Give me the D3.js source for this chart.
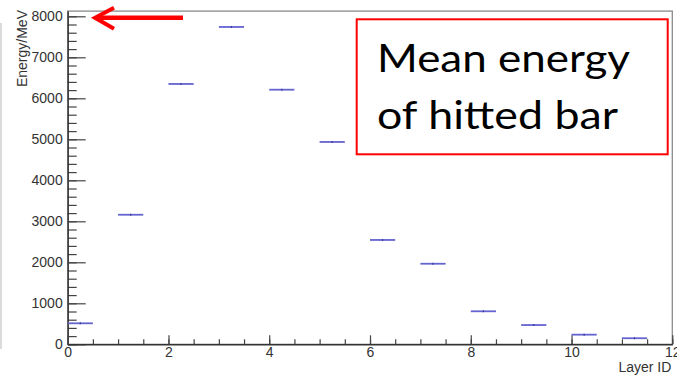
<!DOCTYPE html>
<html>
<head>
<meta charset="utf-8">
<script src="https://cdn.jsdelivr.net/npm/d3@7"></script>
<style>
  html, body { margin: 0; padding: 0; background: #fff; }
  svg { display: block; }
</style>
</head>
<body>
<svg id="chart" width="677" height="375"></svg>
<script>
// Mean deposited energy per layer (histogram bins of width 0.5 starting at each layer ID)
const layerIds = [0, 1, 2, 3, 4, 5, 6, 7, 8, 9, 10, 11];
const meanEnergy = [512, 3160, 6350, 7740, 6210, 4935, 2545, 1965, 805, 470, 235, 148];
const binWidth = 0.5;
const yMajorTicks = [0, 1000, 2000, 3000, 4000, 5000, 6000, 7000, 8000];
const xMajorTicks = [0, 2, 4, 6, 8, 10, 12];
const xTitle = "Layer ID";
const yTitle = "Energy/MeV";
const noteLines = ["Mean energy", "of hitted bar"];

const svg = d3.select("#chart");
const frame = { left: 67.7, right: 672.3, top: 11.1, bottom: 344.3 };

const x = d3.scaleLinear().domain([0, 12]).range([frame.left, frame.right]);
const y = d3.scaleLinear().domain([0, d3.max(meanEnergy) * 1.05]).range([frame.bottom, frame.top]);

// faint border on the far left
svg.append("line")
  .attr("x1", 1).attr("x2", 1).attr("y1", 23).attr("y2", 349)
  .attr("stroke", "#cfcfcf").attr("stroke-width", 1.5);

// frame
svg.append("rect")
  .attr("x", frame.left).attr("y", frame.top)
  .attr("width", frame.right - frame.left).attr("height", frame.bottom - frame.top)
  .attr("fill", "none").attr("stroke", "#8a8a8a").attr("stroke-width", 1.3);

const font = "'Liberation Sans', Arial, Helvetica, sans-serif";
const fmt = d3.format("d");

// y axis: minor ticks every 200, major every 1000 with labels
const yMinor = d3.range(0, y.domain()[1], 200);
svg.append("g").attr("transform", `translate(${frame.left},0)`)
  .call(d3.axisLeft(y).tickValues(yMinor).tickSize(-9).tickFormat(""))
  .call(g => g.select(".domain").remove())
  .selectAll("line").attr("stroke", "#444").attr("stroke-width", 1.2);

const yAxis = svg.append("g").attr("transform", `translate(${frame.left},0)`)
  .call(d3.axisLeft(y).tickValues(yMajorTicks).tickFormat(fmt).tickSize(-18).tickPadding(5).tickSizeOuter(0));
yAxis.select(".domain").attr("stroke", "#333").attr("stroke-width", 1.4);
yAxis.selectAll("line").attr("stroke", "#444").attr("stroke-width", 1.2);
yAxis.selectAll("text").attr("font-family", font).attr("font-size", 14).attr("fill", "#333");

// x axis: minor ticks every 0.5, major every 2 with labels
const xMinor = d3.range(0, 12.01, 0.5);
svg.append("g").attr("transform", `translate(0,${frame.bottom})`)
  .call(d3.axisBottom(x).tickValues(xMinor).tickSize(-5).tickFormat(""))
  .call(g => g.select(".domain").remove())
  .selectAll("line").attr("stroke", "#444").attr("stroke-width", 1.2);

const xAxis = svg.append("g").attr("transform", `translate(0,${frame.bottom})`)
  .call(d3.axisBottom(x).tickValues(xMajorTicks).tickFormat(fmt).tickSize(-9).tickPadding(3).tickSizeOuter(0));
xAxis.select(".domain").attr("stroke", "#333").attr("stroke-width", 1.4);
xAxis.selectAll("line").attr("stroke", "#444").attr("stroke-width", 1.2);
xAxis.selectAll("text").attr("font-family", font).attr("font-size", 14).attr("fill", "#333");

// axis titles
svg.append("text")
  .attr("x", frame.right - 1).attr("y", 372)
  .attr("text-anchor", "end")
  .attr("font-family", font).attr("font-size", 14).attr("fill", "#333")
  .text(xTitle);

svg.append("text")
  .attr("transform", `translate(27,10) rotate(-90)`)
  .attr("text-anchor", "end")
  .attr("font-family", font).attr("font-size", 14).attr("fill", "#333")
  .text(yTitle);

// histogram bins: horizontal segment per bin, with a small mark at the bin centre
const bins = layerIds.map((id, i) => ({ id, v: meanEnergy[i] }));
svg.append("g").selectAll("line")
  .data(bins).join("line")
  .attr("x1", d => x(d.id)).attr("x2", d => x(d.id + binWidth))
  .attr("y1", d => y(d.v)).attr("y2", d => y(d.v))
  .attr("stroke", "#6464cf").attr("stroke-width", 1.8);
svg.append("g").selectAll("line")
  .data(bins).join("line")
  .attr("x1", d => x(d.id + binWidth / 2)).attr("x2", d => x(d.id + binWidth / 2))
  .attr("y1", d => y(d.v) - 1).attr("y2", d => y(d.v) + 1)
  .attr("stroke", "#3a3aa8").attr("stroke-width", 1.2);

// red arrow pointing at the 8000 label
const arrowY = y(8000) + 1.5;
svg.append("line")
  .attr("x1", 183).attr("x2", 97).attr("y1", arrowY).attr("y2", arrowY)
  .attr("stroke", "#ff0000").attr("stroke-width", 4.5);
svg.append("polyline")
  .attr("points", `114,${arrowY - 10} 95,${arrowY} 114,${arrowY + 11}`)
  .attr("fill", "none").attr("stroke", "#ff0000").attr("stroke-width", 4)
  .attr("stroke-linejoin", "miter");

// annotation box
svg.append("rect")
  .attr("x", 356.7).attr("y", 19.3).attr("width", 311).attr("height", 135)
  .attr("fill", "#fff").attr("stroke", "#ff0000").attr("stroke-width", 2);
const noteWidths = [253, 241];
svg.append("g").selectAll("text")
  .data(noteLines).join("text")
  .attr("x", 377).attr("y", (d, i) => 72 + i * 56.5)
  .attr("font-family", "Lato, 'Open Sans', sans-serif")
  .attr("font-size", 39).attr("fill", "#000")
  .attr("textLength", (d, i) => noteWidths[i])
  .attr("lengthAdjust", "spacingAndGlyphs")
  .text(d => d);
</script>
</body>
</html>
